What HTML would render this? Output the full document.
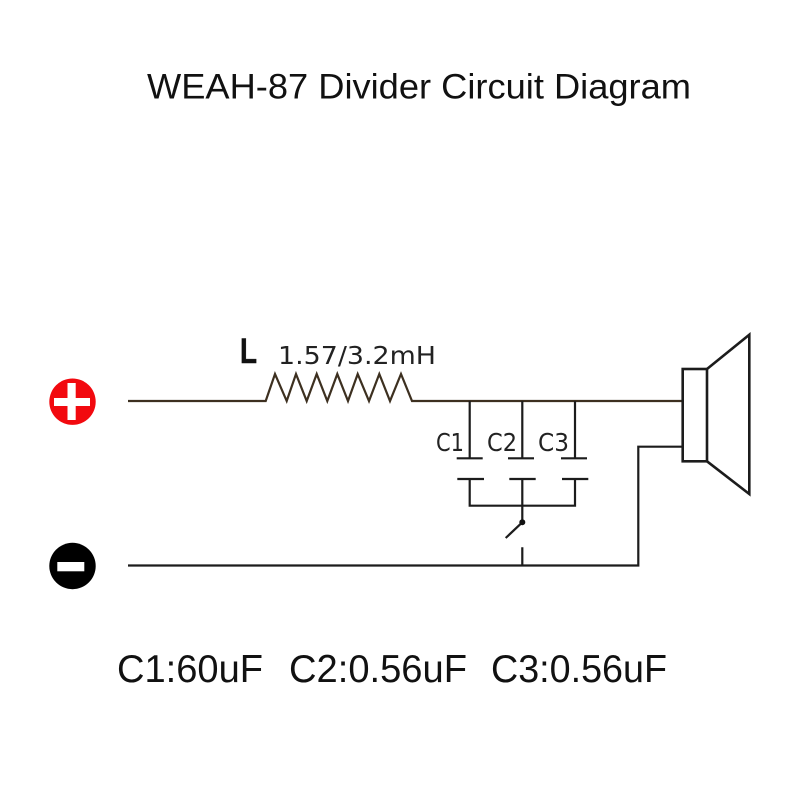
<!DOCTYPE html>
<html><head><meta charset="utf-8"><style>html,body{margin:0;padding:0;background:#fff}svg{display:block}</style></head>
<body>
<svg width="800" height="800" viewBox="0 0 800 800" xmlns="http://www.w3.org/2000/svg">
<rect width="800" height="800" fill="#fff"/>
<g font-family="'Liberation Sans',sans-serif" fill="#111">
<text x="147" y="98.5" font-size="35" textLength="544" lengthAdjust="spacingAndGlyphs">WEAH-87 Divider Circuit Diagram</text>
<text x="117" y="682" font-size="39" textLength="146" lengthAdjust="spacingAndGlyphs">C1:60uF</text>
<text x="289" y="682" font-size="39" textLength="178" lengthAdjust="spacingAndGlyphs">C2:0.56uF</text>
<text x="491" y="682" font-size="39" textLength="176" lengthAdjust="spacingAndGlyphs">C3:0.56uF</text>
<text x="240" y="363" font-size="35" font-weight="bold" textLength="17" lengthAdjust="spacingAndGlyphs" stroke="#111" stroke-width="0.5">L</text>
<g font-family="'DejaVu Sans',sans-serif" fill="#222">
<text x="278" y="364" font-size="25" textLength="158" lengthAdjust="spacingAndGlyphs">1.57/3.2mH</text>
<text x="436" y="451" font-size="25" textLength="28" lengthAdjust="spacingAndGlyphs">C1</text>
<text x="487" y="451" font-size="25" textLength="30" lengthAdjust="spacingAndGlyphs">C2</text>
<text x="538" y="451" font-size="25" textLength="31" lengthAdjust="spacingAndGlyphs">C3</text>
</g>
</g>
<path d="M128 401H265.7L275 374L286.7 401L296 374L306.7 401L316.7 374L327.3 401L337.3 374L348 401L357.7 374L369 401L379.3 374L390 401L401 374L412 401H683" fill="none" stroke="#3d3020" stroke-width="2.2"/>
<g fill="none" stroke="#1c1c1c" stroke-width="2.2">
<path d="M469.7 401V458.3M522.3 401V458.3M575 401V458.3"/>
<path d="M456.7 458.3H482.7M508 458.3H534M561 458.3H587"/>
<path d="M457.3 479H484M509.3 479H535.7M562 479H588.3"/>
<path d="M469.7 479V505.7H575V479M522.3 479V522.3"/>
<path d="M522.3 522.3L505.7 538"/>
<path d="M522.3 547.3V565.5M128 565.5H638.3V446.7H683"/>
</g>
<circle cx="522.3" cy="522.3" r="3" fill="#111"/>
<g fill="none" stroke="#1c1c1c" stroke-width="2.6" stroke-linejoin="miter">
<rect x="682.7" y="369" width="24.3" height="92.3"/>
<path d="M707 369L749.3 334.7V494L707 461.3"/>
</g>
<circle cx="72.5" cy="401.7" r="23.2" fill="#f2090f"/>
<rect x="54" y="398" width="36" height="8" fill="#fff"/>
<rect x="67.5" y="383" width="8.2" height="37" fill="#fff"/>
<circle cx="72.5" cy="566" r="23.2" fill="#000"/>
<rect x="57.3" y="562" width="27" height="9.3" fill="#fff"/>
</svg>
</body></html>
